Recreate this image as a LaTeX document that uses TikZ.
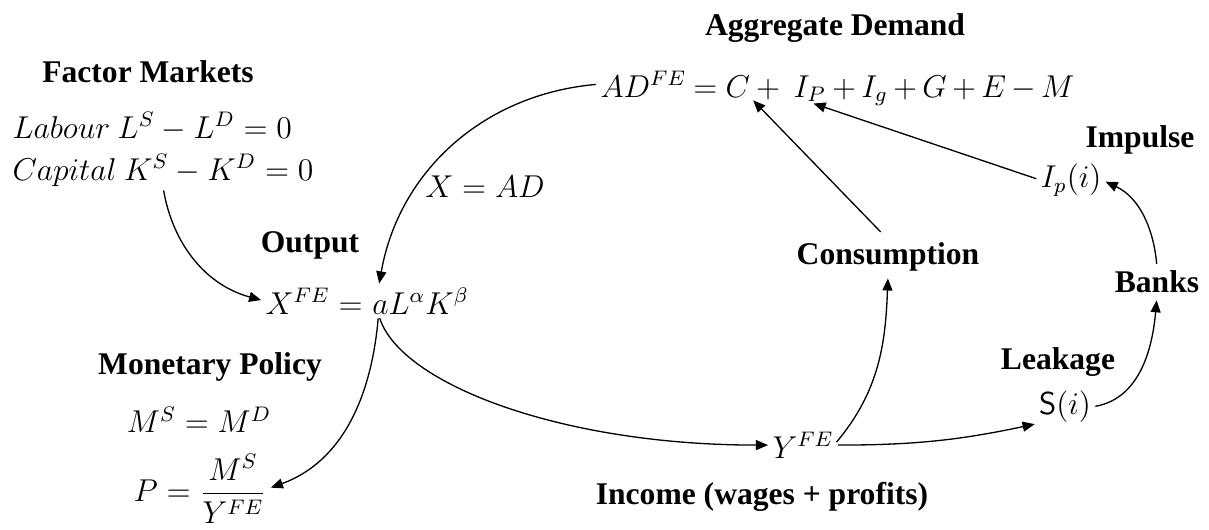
\documentclass[tikz,border=0pt]{standalone}
\usepackage{amsmath,amssymb}
\usepackage[no-math]{fontspec}
\setmainfont{Liberation Serif}
\usetikzlibrary{arrows.meta,positioning}
\tikzset{
  lbl/.style={font=\fontsize{12}{14}\selectfont\bfseries,inner sep=1pt},
  eq/.style={font=\fontsize{11.6}{14}\selectfont,inner sep=0pt},
  flow/.style={-{Triangle[length=4.6pt,width=3.8pt]},line width=0.5pt,
               shorten >=1.5pt,shorten <=1.5pt}
}

\begin{document}
\begin{tikzpicture}[x=0.38pt,y=-0.38pt,node distance=0pt]
  \useasboundingbox (0,0) rectangle (1209,530);
  % headings
  \node[lbl] (aggl) at (835,28) {Aggregate Demand};
  \node[lbl] (fml) at (148,72) {Factor Markets};
  \node[lbl] (outl) at (310,245) {Output};
  \node[lbl] (mpl) at (210,367) {Monetary Policy};
  \node[lbl] (incl) at (762,497) {Income (wages + profits)};
  \node[lbl] (cons) at (888,257) {Consumption};
  \node[lbl] (banks) at (1157,282) {Banks};
  \node[lbl] (impl) at (1140,140) {Impulse};
  \node[lbl] (leakl) at (1058,362) {Leakage};

  % aggregate demand, split so the arrows can reach C and I_P
  \begin{scope}[eq/.append style={execute at begin node={\medmuskip=3mu\thickmuskip=4mu}}]
    \node[eq,anchor=base west] (adlhs) at (600,97) {$AD^{FE}={}$};
    \node[eq,base right=of adlhs] (adC) {$C$};
    \node[eq,base right=of adC] (adplus) {${}+{}\;$};
    \node[eq,base right=of adplus] (adIP) {$I_P$};
    \node[eq,base right=of adIP] (adrest) {${}+I_g+G+E-M$};
  \end{scope}

  \node[eq,anchor=base west] (labour) at (12,138) {$Labour\ L^S-L^D=0$};
  \node[eq,anchor=base west] (capital) at (12,180) {$Capital\ K^S-K^D=0$};
  \node[eq] (xad) at (485,187) {$X=AD$};

  \node[eq,anchor=base west] (xlhs) at (265,314) {$X^{FE}={}$};
  \node[eq,base right=of xlhs] (xrhs) {$aL^{\alpha}K^{\beta}$};

  \node[eq] (money) at (199,420) {$M^S=M^D$};
  \node[eq,anchor=west] (price) at (133,489) {$P=\dfrac{M^S}{Y^{FE}}$};

  \node[eq,anchor=base west] (yfe) at (772,458) {$Y^{FE}$};
  \node[eq] (sav) at (1065,407) {$\mathsf{S}(i)$};
  \node[eq] (ipi) at (1071,180) {$I_p(i)$};

  % flows
  \draw[flow] (adlhs.west) to[out=185,in=80] ([xshift=2.5pt]xrhs.north west);
  \draw[flow] (capital.south) to[out=-80,in=165] (xlhs.west);
  \draw[flow] ([xshift=2.5pt]xrhs.south west) to[out=-95,in=20] (price.east);
  \draw[flow] ([xshift=2.5pt]xrhs.south west)
    to[out=-72,in=180,out looseness=0.45,in looseness=1.3] (yfe.west);
  \draw[flow] (yfe.east) to[out=50,in=-92] (cons.south);
  \draw[flow] (yfe.east) to[out=0,in=192] (sav.south west);
  \draw[flow] (sav.east) to[out=10,in=-95] (banks.south);
  \draw[flow] (banks.north) to[out=95,in=-25] (ipi.east);
  \draw[flow,shorten <=4pt] (cons.north) -- (adC.south east);
  \draw[flow] (ipi.west) -- (adIP.south);
\end{tikzpicture}
\end{document}
